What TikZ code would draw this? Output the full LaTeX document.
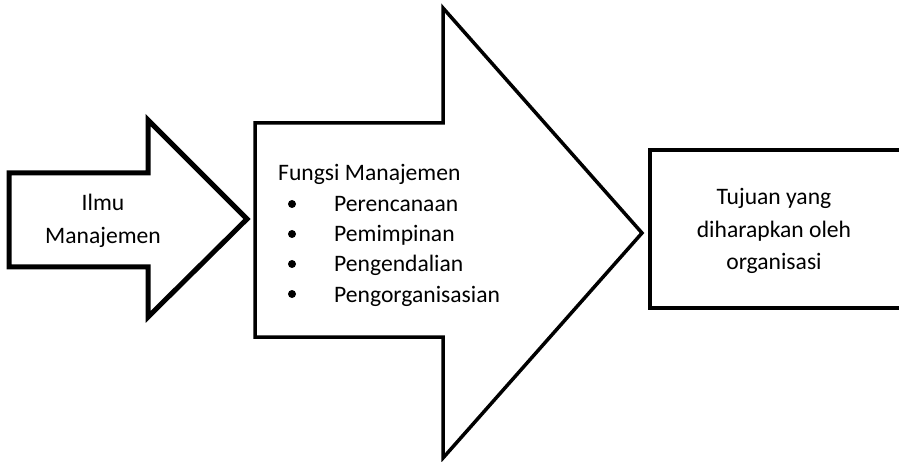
\documentclass[tikz,border=0pt]{standalone}
\usepackage{fontspec}
\setmainfont{Carlito}
\usepackage{tikz}
\tikzset{
	shapeline/.style={draw=black,fill=white,line join=miter},
	bodytext/.style={font=\fontsize{23.6}{32.5}\selectfont,inner sep=0pt,align=center},
	listdot/.style={circle,fill=black,inner sep=0pt,minimum size=8pt}
}

\begin{document}
\begin{tikzpicture}[x=1pt,y=-1pt]
\useasboundingbox (0,0) rectangle (899,462);
\draw [shapeline,line width=3.5pt] (255,123) -- (443,123) -- (443,8) -- (642,233) -- (443,458) -- (443,337) -- (255,337) -- cycle;
\draw [shapeline,line width=5pt] (9,173) -- (148,173) -- (148,120) -- (247,219) -- (148,317) -- (148,267) -- (9,267) -- cycle;
\draw [shapeline,line width=4.5pt] (650,150) rectangle (910,308);
\node [bodytext] (ilmu) at (103,221) {Ilmu\\Manajemen};
\node [bodytext,anchor=base west] (fungsi) at (278,181) {Fungsi Manajemen};
\foreach \t [count=\i] in {Perencanaan,Pemimpinan,Pengendalian,Pengorganisasian}
{
	\node [listdot] (dot\i) at (292,174+30*\i) {};
	\node [bodytext,anchor=base west] (item\i) at (334,182+30*\i) {\t};
}
\node [bodytext] (tujuan) at (774,231) {Tujuan yang\\diharapkan oleh\\organisasi};
\end{tikzpicture}
\end{document}
